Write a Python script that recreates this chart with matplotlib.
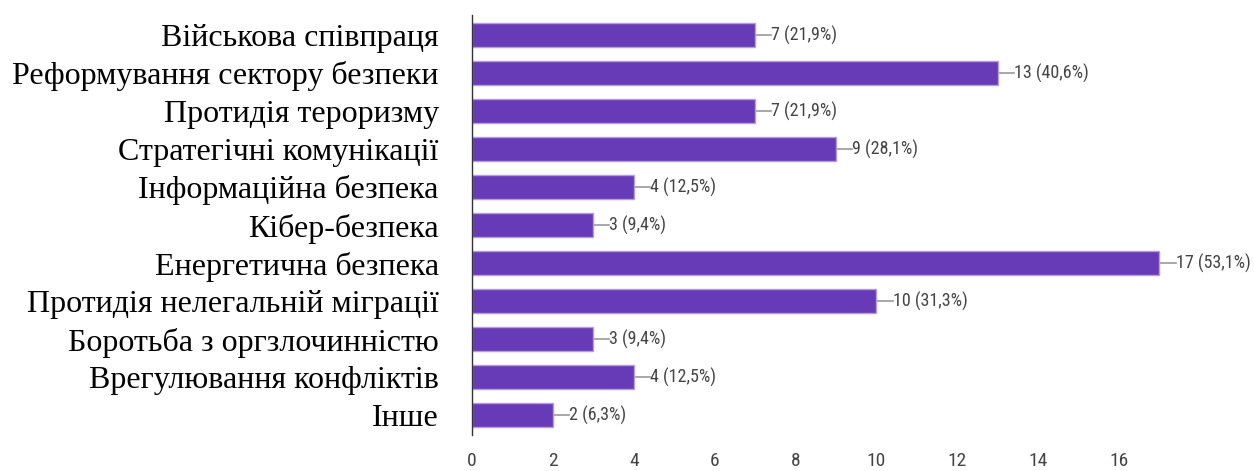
import matplotlib
matplotlib.use("Agg")
import matplotlib.pyplot as plt
from matplotlib import font_manager as fm

categories = [
    "Військова співпраця",
    "Реформування сектору безпеки",
    "Протидія тероризму",
    "Стратегічні комунікації",
    "Інформаційна безпека",
    "Кібер-безпека",
    "Енергетична безпека",
    "Протидія нелегальній міграції",
    "Боротьба з оргзлочинністю",
    "Врегулювання конфліктів",
    "Інше",
]
counts = [7, 13, 7, 9, 4, 3, 17, 10, 3, 4, 2]
percents = ["21,9%", "40,6%", "21,9%", "28,1%", "12,5%", "9,4%",
            "53,1%", "31,3%", "9,4%", "12,5%", "6,3%"]
xticks = [0, 2, 4, 6, 8, 10, 12, 14, 16]

names = {f.name for f in fm.fontManager.ttflist}
narrow = None
for cand in ["Roboto Condensed", "Liberation Sans Narrow", "Arial Narrow"]:
    if cand in names:
        narrow = cand
        break
narrow_kw = {"family": narrow} if narrow else {"family": "DejaVu Sans", "stretch": "condensed"}

fig = plt.figure(figsize=(12.54, 4.71), dpi=100)
ax = fig.add_axes([472 / 1254, 36 / 471, 1 - 472 / 1254, (435 - 15) / 471])

bar_color = "#673ab7"
y = list(range(len(categories)))
ax.barh(y, counts, height=0.63, color=bar_color, edgecolor="#b39ddb", linewidth=1.0, zorder=2)

for yi, c, p in zip(y, counts, percents):
    ax.plot([c, c + 0.4], [yi, yi], color="#999999", linewidth=1.2, zorder=1)
    ax.text(c + 0.4, yi, f"{c} ({p})", va="center", ha="left", fontsize=13,
            color="#444444", **narrow_kw)

ax.set_xlim(0, (1254 - 472) / ((1119 - 472) / 16))
ax.set_ylim(len(categories) - 1 + 0.526, -0.526)
ax.set_yticks(y)
ax.set_yticklabels(categories, family="Liberation Serif", fontsize=23, color="black")
ax.set_xticks(xticks)
ax.set_xticklabels([str(t) for t in xticks], fontsize=14, color="#444444", **narrow_kw)
ax.tick_params(axis="both", length=0)
ax.tick_params(axis="x", pad=12)
ax.tick_params(axis="y", pad=24)
for s in ["top", "right", "bottom"]:
    ax.spines[s].set_visible(False)
ax.spines["left"].set_color("#333333")
ax.spines["left"].set_linewidth(1.0)

fig.savefig("out.png", dpi=100)
